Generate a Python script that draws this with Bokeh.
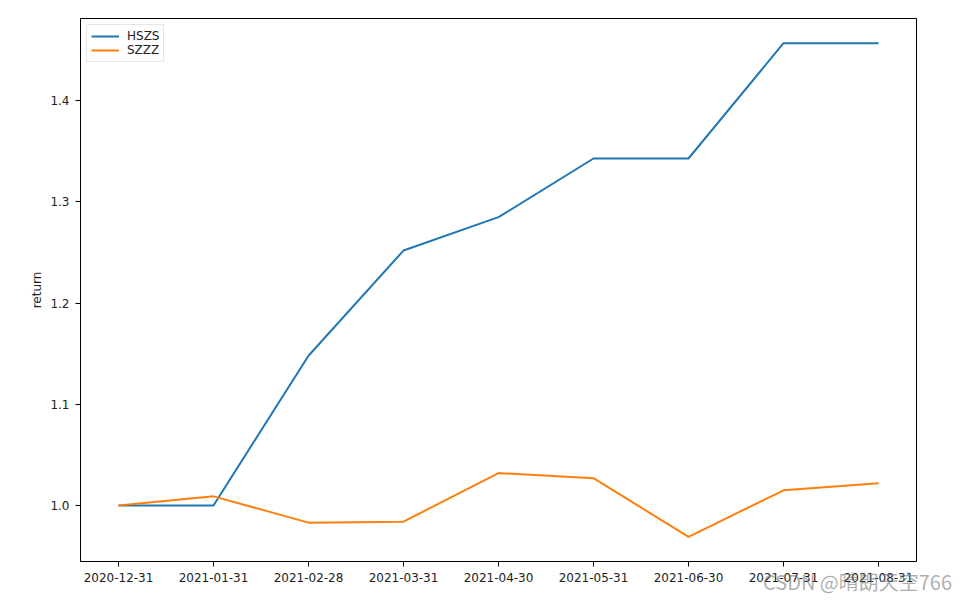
from bokeh.plotting import figure
from bokeh.models import FixedTicker, Legend, LegendItem, Range1d, Div
from bokeh.layouts import column
from bokeh.embed import file_html
from bokeh.resources import INLINE

dates = ["2020-12-31", "2021-01-31", "2021-02-28", "2021-03-31", "2021-04-30",
         "2021-05-31", "2021-06-30", "2021-07-31", "2021-08-31"]
hszs = [1.000, 1.000, 1.148, 1.252, 1.285, 1.343, 1.343, 1.457, 1.457]
szzz = [1.000, 1.009, 0.983, 0.984, 1.032, 1.027, 0.969, 1.015, 1.022]
watermark = "CSDN @晴朗天空766"

idx = list(range(len(dates)))

p = figure(width=964, height=602, output_backend="svg", toolbar_location=None,
           x_range=Range1d(-0.4, len(dates) - 0.6), y_range=Range1d(0.9446, 1.4814),
           min_border_left=80, min_border_right=48, min_border_top=18, min_border_bottom=41)
p.background_fill_color = "white"
p.border_fill_color = "white"
p.outline_line_color = "black"
p.outline_line_width = 1
p.grid.visible = False

r1 = p.line(idx, hszs, line_color="#1f77b4", line_width=2)
r2 = p.line(idx, szzz, line_color="#ff7f0e", line_width=2)

p.xaxis.ticker = FixedTicker(ticks=idx)
p.xaxis.major_label_overrides = {i: d for i, d in enumerate(dates)}
p.yaxis.ticker = FixedTicker(ticks=[1.0, 1.1, 1.2, 1.3, 1.4])
p.yaxis.major_label_overrides = {1.0: "1.0", 1.1: "1.1", 1.2: "1.2", 1.3: "1.3", 1.4: "1.4"}
p.yaxis.axis_label = "return"

for ax in (p.xaxis, p.yaxis):
    ax.major_tick_out = 5
    ax.major_tick_in = 0
    ax.minor_tick_out = 0
    ax.minor_tick_in = 0
    ax.axis_line_color = "black"
    ax.major_tick_line_color = "black"
    ax.major_label_text_font = "DejaVu Sans"
    ax.major_label_text_font_size = "12px"
    ax.major_label_text_color = "#222222"
    ax.major_label_standoff = 6
p.yaxis.axis_label_text_font = "DejaVu Sans"
p.yaxis.axis_label_text_font_size = "12px"
p.yaxis.axis_label_text_font_style = "normal"
p.yaxis.axis_label_text_color = "#222222"
p.yaxis.axis_label_standoff = 3

legend = Legend(items=[LegendItem(label="HSZS", renderers=[r1]),
                       LegendItem(label="SZZZ", renderers=[r2])],
                location="top_left")
legend.label_text_font = "DejaVu Sans"
legend.label_text_font_size = "12px"
legend.label_text_color = "#222222"
legend.border_line_color = "#cccccc"
legend.border_line_width = 1
legend.glyph_width = 28
legend.glyph_height = 14
legend.label_standoff = 8
legend.spacing = 0
legend.padding = 4
legend.margin = 6
legend.label_height = 14
p.add_layout(legend)

wm = Div(text=('<span style="font-family:\'Noto Sans CJK SC\';font-size:20px;line-height:20px;'
               'color:rgba(120,120,120,0.6);white-space:nowrap;">' + watermark + '</span>'),
         width=195, height=20, margin=(-30, 0, 0, 763))

layout = column(p, wm, spacing=0)
open("out.html", "w").write(file_html(layout, INLINE))
